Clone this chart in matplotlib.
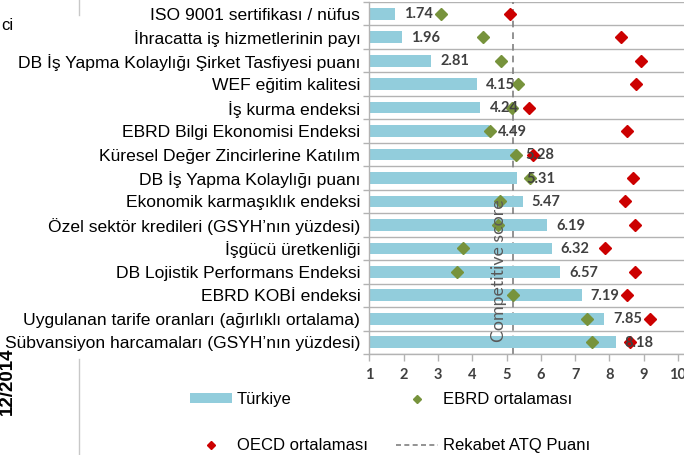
import matplotlib
matplotlib.use("Agg")
import matplotlib.pyplot as plt
from matplotlib.lines import Line2D
from matplotlib.patches import Patch
import numpy as np

categories = [
    "ISO 9001 sertifikası / nüfus",
    "İhracatta iş hizmetlerinin payı",
    "DB İş Yapma Kolaylığı Şirket Tasfiyesi puanı",
    "WEF eğitim kalitesi",
    "İş kurma endeksi",
    "EBRD Bilgi Ekonomisi Endeksi",
    "Küresel Değer Zincirlerine Katılım",
    "DB İş Yapma Kolaylığı puanı",
    "Ekonomik karmaşıklık endeksi",
    "Özel sektör kredileri (GSYH’nın yüzdesi)",
    "İşgücü üretkenliği",
    "DB Lojistik Performans Endeksi",
    "EBRD KOBİ endeksi",
    "Uygulanan tarife oranları (ağırlıklı ortalama)",
    "Sübvansiyon harcamaları (GSYH’nın yüzdesi)",
]
turkiye = [1.74, 1.96, 2.81, 4.15, 4.24, 4.49, 5.28, 5.31, 5.47, 6.19, 6.32, 6.57, 7.19, 7.85, 8.18]
ebrd = [3.09, 4.31, 4.84, 5.33, 5.15, 4.51, 5.27, 5.69, 4.81, 4.75, 3.73, 3.56, 5.19, 7.35, 7.48]
oecd = [5.09, 8.33, 8.91, 8.78, 5.66, 8.50, 5.77, 8.69, 8.45, 8.75, 7.87, 8.74, 8.50, 9.18, 8.60]
competitive_score = 5.20
x_ticks = [1, 2, 3, 4, 5, 6, 7, 8, 9, 10]

bar_color = "#92CDDC"
green = "#77933C"
red = "#CC0000"
grid_grey = "#B3B3B3"
label_grey = "#404040"

W, H = 684, 455
fig = plt.figure(figsize=(W / 100, H / 100), dpi=100)
left_px, right_px, top_px, bot_px = 369.3, 684, 2, 354
ax = fig.add_axes([left_px / W, 1 - bot_px / H, (right_px - left_px) / W, (bot_px - top_px) / H])

y = np.arange(len(categories))
ax.barh(y, turkiye, height=0.5, color=bar_color, zorder=2)
ax.plot(ebrd, y, linestyle="none", marker="D", markersize=6.6, color=green, zorder=4)
ax.plot(oecd, y, linestyle="none", marker="D", markersize=6.6, color=red, zorder=5)
for yi, v in zip(y, turkiye):
    ax.annotate(f"{v:.2f}", (v, yi), xytext=(6.5, -0.5), textcoords="offset points",
                ha="left", va="center", fontsize=10.5, fontweight="bold",
                family=["Lato", "DejaVu Sans"], color=label_grey, zorder=7)
ax.axvline(competitive_score, color="#808080", linestyle=(0, (4, 3)), linewidth=1.2, zorder=1)
ax.text(4.78, 10.97, "Competitive score", rotation=90, ha="center", va="center",
        fontsize=12.8, family=["Lato", "DejaVu Sans"], color="#595959", zorder=6)

ax.set_xlim(1, 1 + (right_px - left_px) / 34.3)
ax.set_ylim(len(categories) - 0.5, -0.5)
ax.set_xticks(x_ticks)
ax.set_xticklabels([str(t) for t in x_ticks], fontsize=10.5, fontweight="bold",
                   family=["Lato", "DejaVu Sans"], color=label_grey)
ax.set_yticks(y)
ax.set_yticklabels(categories, fontsize=12.6, family=["Liberation Sans", "DejaVu Sans"], color="black")
ax.set_yticks(np.arange(-0.5, len(categories), 1), minor=True)
ax.tick_params(axis="y", which="major", length=0, pad=6.5)
ax.tick_params(axis="y", which="minor", length=4, color=grid_grey, width=1)
ax.tick_params(axis="x", which="major", length=5, color=grid_grey, width=1, pad=5)
ax.grid(axis="y", which="minor", color=grid_grey, linewidth=1, zorder=0)
ax.set_axisbelow(True)
for s in ["top", "right"]:
    ax.spines[s].set_visible(False)
for s in ["left", "bottom"]:
    ax.spines[s].set_color(grid_grey)
    ax.spines[s].set_linewidth(1)

handles = [
    Patch(facecolor=bar_color, edgecolor="none", label="Türkiye"),
    Line2D([], [], linestyle="none", marker="D", markersize=4, color=red, label="OECD ortalaması"),
    Line2D([], [], linestyle="none", marker="D", markersize=4, color=green, label="EBRD ortalaması"),
    Line2D([], [], linestyle=(0, (3, 2)), color="#808080", linewidth=1.2, label="Rekabet ATQ Puanı"),
]
fig.legend(handles=handles, ncol=2, loc="upper left", bbox_to_anchor=(190 / W, 1 - 392 / H),
           frameon=False, prop={"family": ["Liberation Sans", "DejaVu Sans"], "size": 12},
           handlelength=2.5, handleheight=0.5, handletextpad=0.3, columnspacing=1.7,
           labelspacing=1.85, borderpad=0, borderaxespad=0)

# fragments of neighbouring page content at the left edge
fig.add_artist(Line2D([79 / W, 79 / W], [1, 1 - 15 / H], color="#C8C8C8", linewidth=1))
fig.add_artist(Line2D([79 / W, 79 / W], [1 - 359 / H, 0], color="#C8C8C8", linewidth=1))
fig.text(1 / W, 1 - 25 / H, "ci", fontsize=12, family=["Liberation Sans", "DejaVu Sans"],
         ha="left", va="center")
fig.text(7 / W, 1 - 381 / H, "12/2014", rotation=90, fontsize=13.5, fontweight="bold",
         family=["Liberation Sans", "DejaVu Sans"], ha="center", va="center")

fig.savefig("out.png", dpi=100)
